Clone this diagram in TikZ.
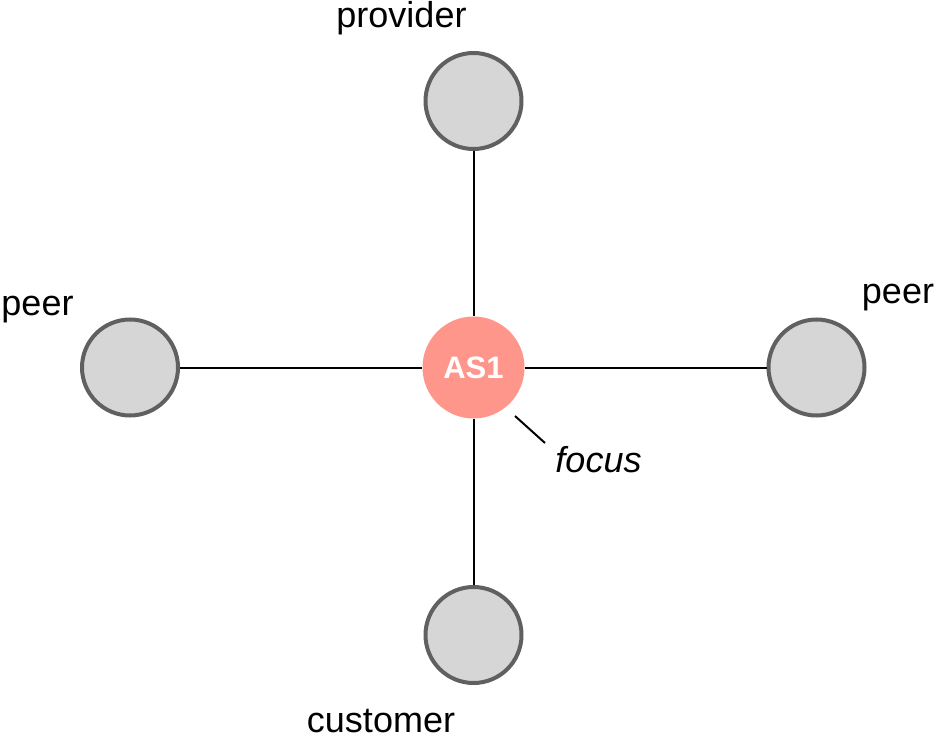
\documentclass[tikz,border=0pt]{standalone}
\usepackage{fontspec}
\setmainfont{Liberation Sans}
\definecolor{asfill}{HTML}{FF968C}
\definecolor{nodefill}{HTML}{D6D6D6}
\definecolor{nodeline}{HTML}{606060}
\begin{document}
\begin{tikzpicture}[x=1pt,y=-1pt,
  asnode/.style={circle,draw=nodeline,fill=nodefill,line width=4pt,minimum size=96pt,inner sep=0pt},
  focusnode/.style={circle,fill=asfill,minimum size=102pt,inner sep=0pt,text=white,font=\fontsize{31}{37}\selectfont\bfseries},
  lbl/.style={anchor=base,inner sep=0pt,font=\fontsize{36}{43}\selectfont},
  link/.style={line width=2pt,black}]
\useasboundingbox (0,0) rectangle (943,746);
\node[asnode] (prov) at (473.5,101) {};
\node[asnode] (cust) at (473.5,635) {};
\node[asnode] (peerl) at (130,367.5) {};
\node[asnode] (peerr) at (816.5,367.5) {};
\node[focusnode] (as1) at (473.5,367.5) {AS1};
\draw[link] (prov) -- (as1);
\draw[link] (cust) -- (as1);
\draw[link] (peerl) -- (as1);
\draw[link] (peerr) -- (as1);
\node[lbl] (lprov) at (401.5,28) {provider};
\node[lbl] (lcust) at (381,732) {customer};
\node[lbl] (lpeerl) at (37.5,316) {peer};
\node[lbl] (lpeerr) at (898,303) {peer};
\node[lbl,font=\fontsize{36}{43}\selectfont\itshape] (lfocus) at (598.5,472) {focus};
\coordinate (fa) at (515,416);
\coordinate (fb) at (545,443);
\draw[link] (fa) -- (fb);
\end{tikzpicture}
\end{document}
